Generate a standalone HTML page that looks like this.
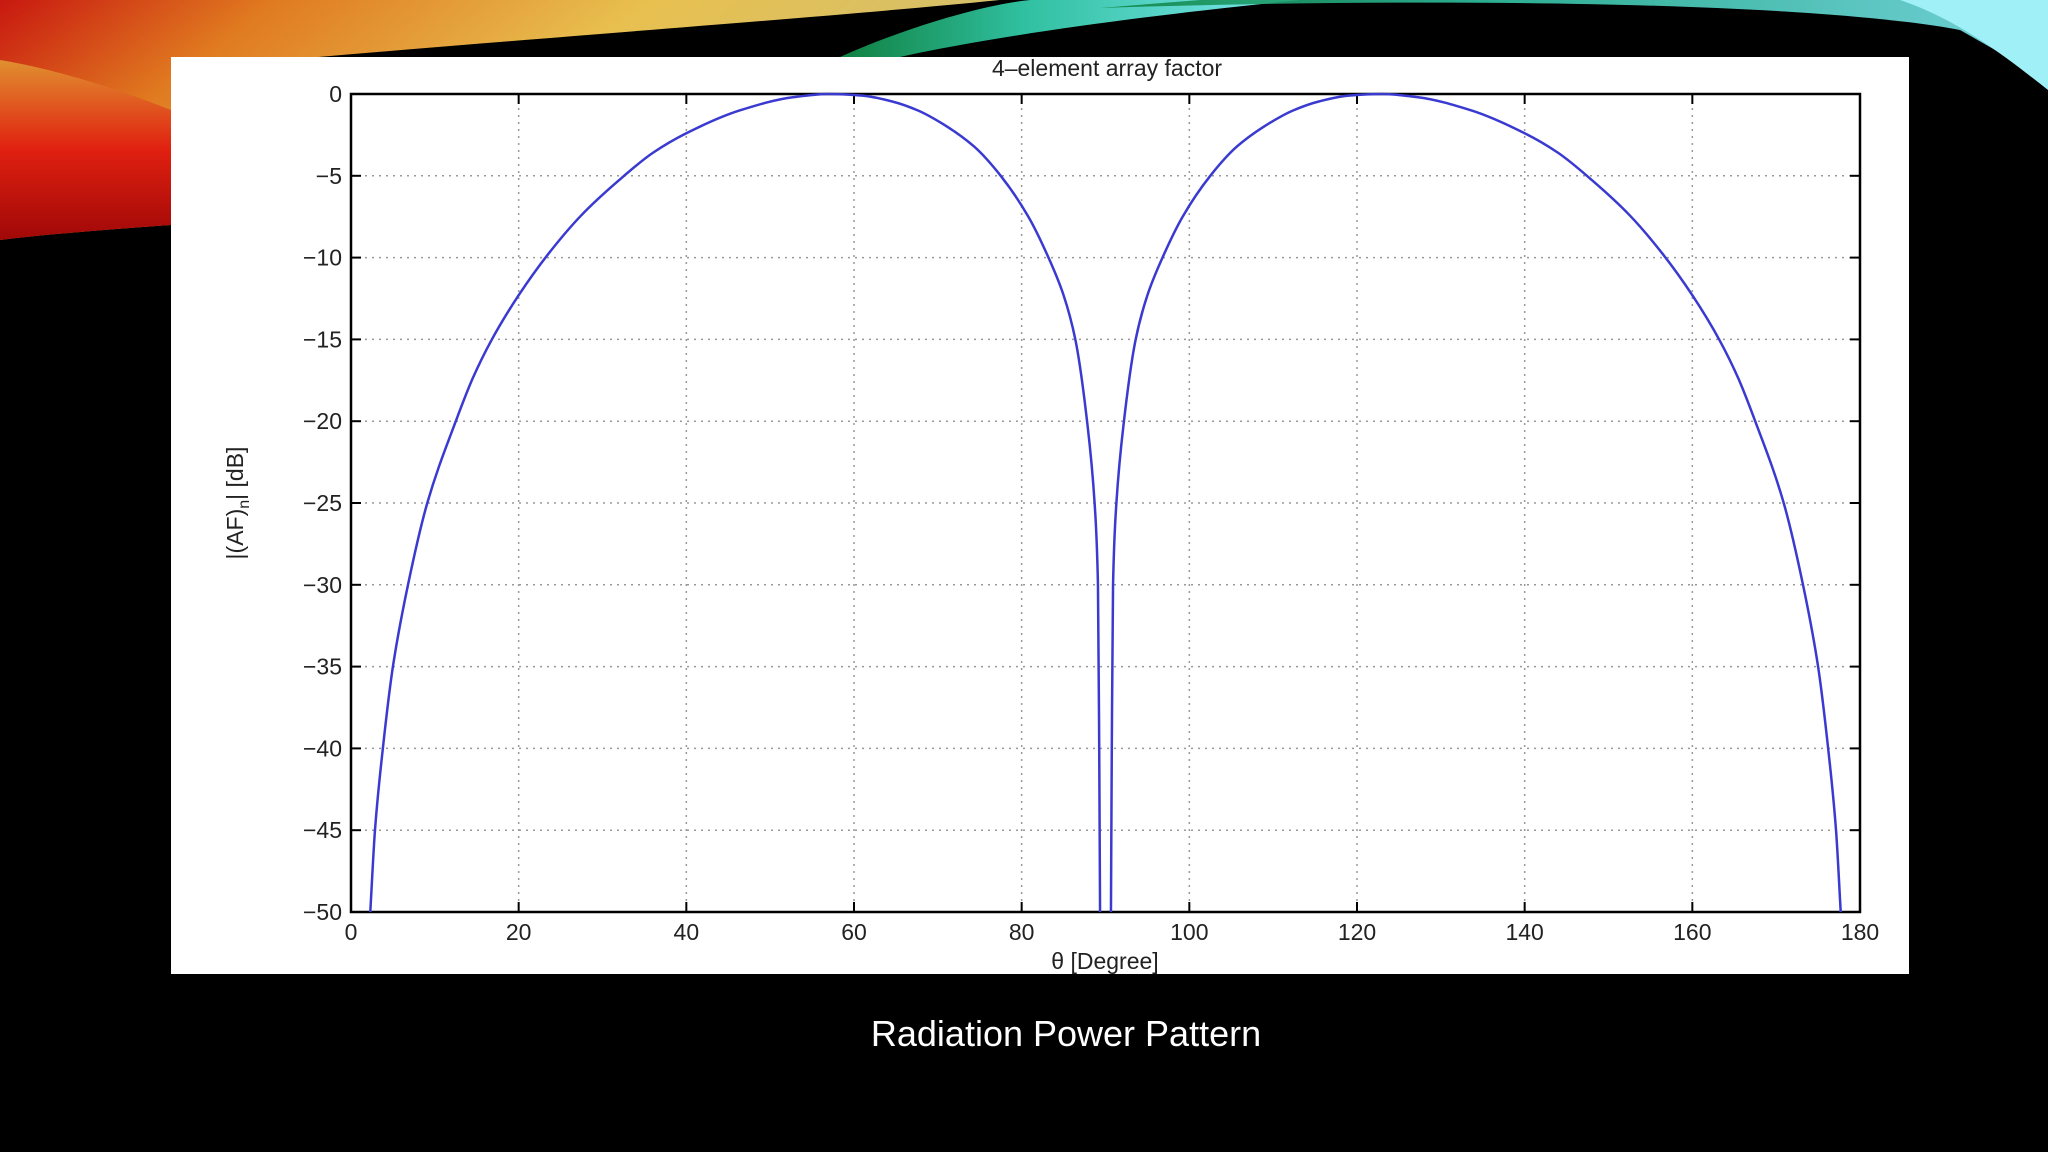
<!DOCTYPE html>
<html><head><meta charset="utf-8"><style>
html,body{margin:0;padding:0;background:#000;width:2048px;height:1152px;overflow:hidden}
svg{display:block}
</style></head><body>
<svg width="2048" height="1152" viewBox="0 0 2048 1152">
<defs>
<linearGradient id="warm" x1="0" y1="0" x2="1" y2="0.3">
<stop offset="0" stop-color="#c81810"/><stop offset="0.25" stop-color="#e07a20"/><stop offset="0.6" stop-color="#e8c050"/><stop offset="1" stop-color="#d0c070"/></linearGradient>
<linearGradient id="redg" x1="0" y1="0" x2="0" y2="1">
<stop offset="0" stop-color="#e09030"/><stop offset="0.5" stop-color="#e02010"/><stop offset="1" stop-color="#a00808"/></linearGradient>
<linearGradient id="cool" x1="0" y1="0" x2="1" y2="0">
<stop offset="0" stop-color="#108040"/><stop offset="0.4" stop-color="#30c0a0"/><stop offset="1" stop-color="#80e8f0"/></linearGradient>
</defs>
<g>
<path d="M0 0 H1000 C800 20 500 40 171 70 L171 225 C100 230 40 235 0 240 Z" fill="url(#warm)"/>
<path d="M0 60 C60 70 120 90 171 110 L171 225 C100 230 40 235 0 240 Z" fill="url(#redg)"/>
<path d="M840 57 C900 30 980 5 1030 0 H1300 C1150 15 1000 35 900 57 Z" fill="url(#cool)"/>
<path d="M1100 8 C1400 -2 1800 0 1960 30 L2048 80 V0 H1200 Z" fill="url(#cool)" opacity="0.9"/>
<path d="M1900 0 H2048 V90 C2010 60 1960 20 1900 0 Z" fill="#a0f0f8"/>
</g>
<rect x="171" y="57" width="1738" height="917" fill="#fff"/>
<g id="grid"></g>
<rect x="351" y="94" width="1509" height="818" fill="none" stroke="#000" stroke-width="2.5"/>
<g id="ticks"></g>
<path id="curve" fill="none" stroke="#3a3ad0" stroke-width="2.5" stroke-linejoin="round"/>
<text x="1107" y="76" text-anchor="middle" font-family="Liberation Sans, sans-serif" font-size="23" fill="#222">4–element array factor</text>
<text x="1105" y="969" text-anchor="middle" font-family="Liberation Sans, sans-serif" font-size="23" fill="#222">θ [Degree]</text>
<text transform="translate(243,503) rotate(-90)" text-anchor="middle" font-family="Liberation Sans, sans-serif" font-size="23" fill="#222">|(AF)<tspan font-size="16" dy="6">n</tspan><tspan dy="-6">| [dB]</tspan></text>
<text x="1066" y="1046" text-anchor="middle" font-family="Liberation Sans, sans-serif" font-size="36" fill="#fff">Radiation Power Pattern</text>
</svg>
<script>
const xTicks=[0,20,40,60,80,100,120,140,160,180];
const yTicks=[0,-5,-10,-15,-20,-25,-30,-35,-40,-45,-50];
const theta=[2.3,2.86,3.8,5.0,6.8,9.1,12.5,14.5,16.7,20,23.5,27.5,31.9,36,40,46.4,52.7,57,61,64.5,67.6,70.5,74.3,77.5,80.8,83.2,85,86.4,87.8,88.7,89.1,89.25,89.35];
const afDb=[-50,-45,-40,-35,-30,-25,-20,-17.4,-15.1,-12.3,-9.8,-7.4,-5.3,-3.6,-2.4,-1.0,-0.2,0,-0.1,-0.45,-1.0,-1.8,-3.2,-5,-7.5,-10,-12.3,-15,-20,-25,-30,-40,-50];
const X0=351,X1=1860,Y0=94,Y1=912;
const sx=v=>X0+(v/180)*(X1-X0);
const sy=v=>Y0+(-Math.max(-50,Math.min(0,v))/50)*(Y1-Y0);
const NS='http://www.w3.org/2000/svg';
const grid=document.getElementById('grid'),ticks=document.getElementById('ticks');
function mk(tag,attrs,parent){const e=document.createElementNS(NS,tag);for(const k in attrs)e.setAttribute(k,attrs[k]);parent.appendChild(e);return e;}
xTicks.forEach(v=>{const x=sx(v);
 if(v>0&&v<180){const g=mk('line',{x1:x,x2:x,y1:Y0,y2:Y1,stroke:'#999','stroke-width':1.5,'stroke-dasharray':'2 5'},grid);
 
 }
 mk('line',{x1:x,x2:x,y1:Y1,y2:Y1-10,stroke:'#000','stroke-width':2},ticks);
 mk('line',{x1:x,x2:x,y1:Y0,y2:Y0+10,stroke:'#000','stroke-width':2},ticks);
 const t=mk('text',{x:x,y:940,'text-anchor':'middle','font-family':'Liberation Sans, sans-serif','font-size':23,fill:'#222'},ticks);
 t.textContent=v;
 
 
});
yTicks.forEach(v=>{const y=sy(v);
 if(v<0&&v>-50){const g=mk('line',{x1:X0,x2:X1,y1:y,y2:y,stroke:'#999','stroke-width':1.5,'stroke-dasharray':'2 5'},grid);
 
 }
 mk('line',{x1:X0,x2:X0+10,y1:y,y2:y,stroke:'#000','stroke-width':2},ticks);
 mk('line',{x1:X1,x2:X1-10,y1:y,y2:y,stroke:'#000','stroke-width':2},ticks);
 const t=mk('text',{x:342,y:y+8,'text-anchor':'end','font-family':'Liberation Sans, sans-serif','font-size':23,fill:'#222'},ticks);
 t.textContent=v===0?'0':'\u2212'+(-v);
 
 
});
function monotone(X,Y){const n=X.length,d=[],m=[];
 for(let i=0;i<n-1;i++)d.push((Y[i+1]-Y[i])/(X[i+1]-X[i]));
 m[0]=d[0];m[n-1]=d[n-2];
 for(let i=1;i<n-1;i++){ if(d[i-1]*d[i]<=0)m[i]=0; else{const h0=X[i]-X[i-1],h1=X[i+1]-X[i];const w1=2*h1+h0,w2=h1+2*h0;m[i]=(w1+w2)/(w1/d[i-1]+w2/d[i]);}}
 let s='M'+X[0]+' '+Y[0];
 for(let i=0;i<n-1;i++){const h=X[i+1]-X[i];
  s+=' C'+(X[i]+h/3)+' '+(Y[i]+m[i]*h/3)+' '+(X[i+1]-h/3)+' '+(Y[i+1]-m[i+1]*h/3)+' '+X[i+1]+' '+Y[i+1];}
 return s;}
const LX=theta.map(sx),LY=afDb.map(sy);
const RX=theta.slice().reverse().map(t=>sx(180-t)),RY=afDb.slice().reverse().map(sy);
document.getElementById('curve').setAttribute('d',monotone(LX,LY)+' '+monotone(RX,RY));
</script>
</body></html>
